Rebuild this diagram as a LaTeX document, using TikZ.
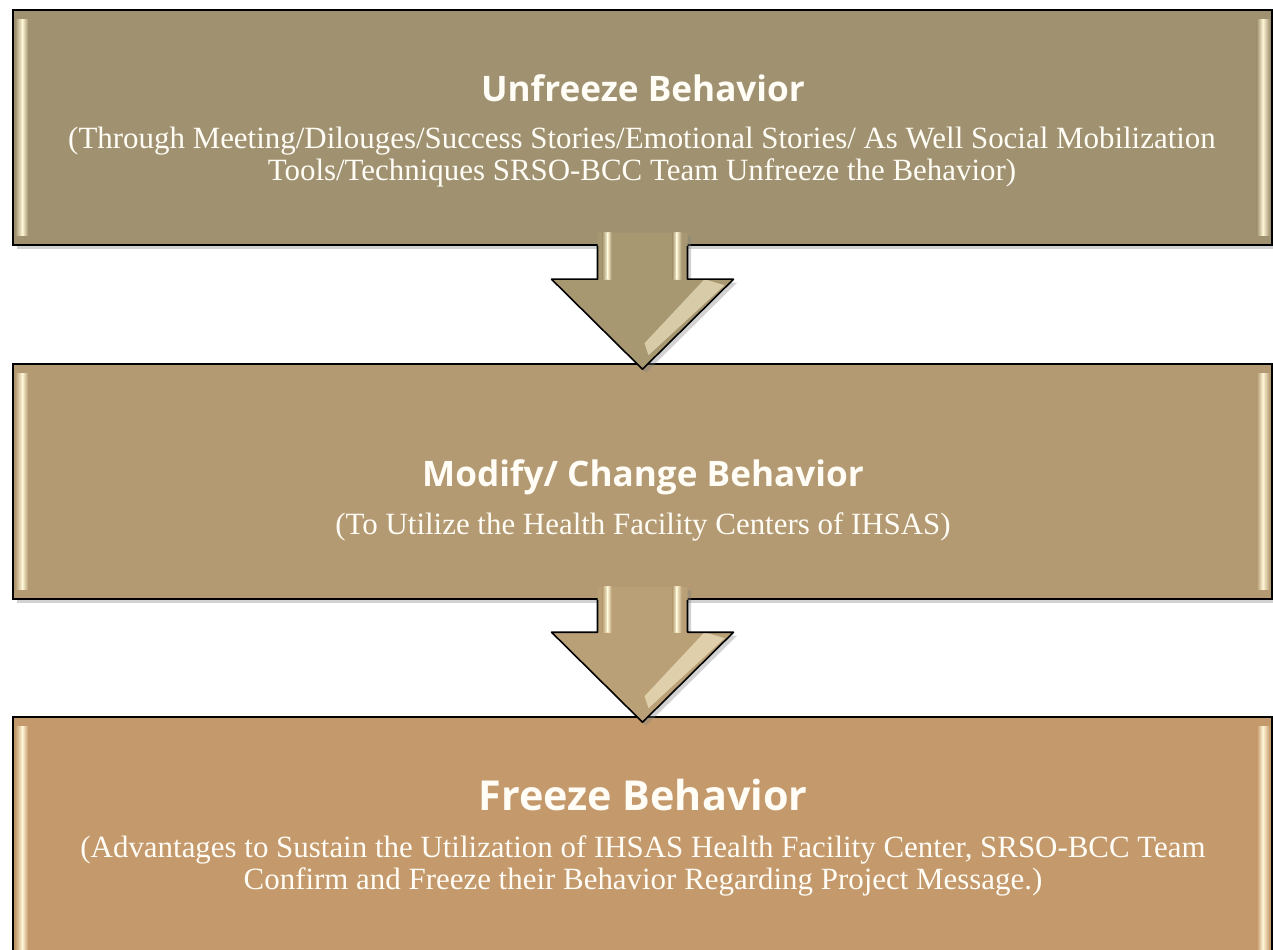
\documentclass[tikz,border=0pt]{standalone}
\usepackage{fontspec}
\setmainfont{Liberation Serif}
\newfontfamily\headfont{Open Sans}
\usetikzlibrary{calc, shadows}

\definecolor{BoxOne}{RGB}{160,146,113}
\definecolor{BoxTwo}{RGB}{179,154,114}
\definecolor{BoxThree}{RGB}{196,153,108}
\definecolor{ArrOne}{RGB}{168,152,114}
\definecolor{ArrTwo}{RGB}{185,160,118}
\definecolor{Bevel}{RGB}{255,246,214}
\definecolor{Ink}{RGB}{255,253,246}

\tikzset{
	stagebox/.style={draw=black, line width=0.9pt, minimum width=1259*0.02cm, minimum height=235*0.02cm, inner sep=0pt, drop shadow={opacity=0.35, shadow xshift=2pt, shadow yshift=-2pt}},
	stagetitle/.style={text=Ink, font=\headfont\bfseries\fontsize{20}{23}\selectfont},
	stagetext/.style={text=Ink, align=center, font=\fontsize{17.6}{18.1}\selectfont}
}

% light edges on both sides of a box
\newcommand\bevel[2]{
	\shade[left color=#2, right color=Bevel] ($(#1.north west)+(3,10)$) rectangle ($(#1.south west)+(10,-10)$);
	\shade[left color=Bevel, right color=#2] ($(#1.north west)+(10,10)$) rectangle ($(#1.south west)+(16,-10)$);
	\shade[left color=#2, right color=Bevel] ($(#1.north east)+(-16,10)$) rectangle ($(#1.south east)+(-10,-10)$);
	\shade[left color=Bevel, right color=#2] ($(#1.north east)+(-10,10)$) rectangle ($(#1.south east)+(-3,-10)$);
}

% block arrow from one box down into the next
\newcommand\flowarrow[3]{
	\fill[#3, drop shadow={opacity=0.35, shadow xshift=2pt, shadow yshift=-2pt}] ($(#1.south)+(-45,-13)$) -- ($(#2.north)+(-45,-84)$) -- ($(#2.north)+(-91,-84)$) -- ($(#2.north)+(0,6)$) -- ($(#2.north)+(91,-84)$) -- ($(#2.north)+(45,-84)$) -- ($(#1.south)+(45,-13)$) -- cycle;
	\shade[left color=#3, right color=Bevel] ($(#1.south)+(-40,-13)$) rectangle ($(#2.north)+(-35,-84)$);
	\shade[left color=Bevel, right color=#3] ($(#1.south)+(-35,-13)$) rectangle ($(#2.north)+(-31,-84)$);
	\shade[left color=#3, right color=Bevel] ($(#1.south)+(30,-13)$) rectangle ($(#2.north)+(34,-84)$);
	\shade[left color=Bevel, right color=#3] ($(#1.south)+(34,-13)$) rectangle ($(#2.north)+(39,-84)$);
	\fill[Bevel, opacity=0.55] ($(#2.north)+(62,-84)$) -- ($(#2.north)+(82,-78)$) -- ($(#2.north)+(6,-8)$) -- ($(#2.north)+(2,-20)$) -- cycle;
	\draw[line width=0.9pt, line join=round] ($(#1.south)+(-45,0)$) -- ($(#2.north)+(-45,-84)$) -- ($(#2.north)+(-91,-84)$) -- ($(#2.north)+(0,6)$) -- ($(#2.north)+(91,-84)$) -- ($(#2.north)+(45,-84)$) -- ($(#1.south)+(45,0)$);
}

\begin{document}
\begin{tikzpicture}[x=0.02cm, y=-0.02cm]
	\clip (0,0) rectangle (1273,949);
	\fill[white] (0,0) rectangle (1273,949);

	\node[stagebox, fill=BoxOne] (unfreeze) at (642.5,127.5) {};
	\bevel{unfreeze}{BoxOne}
	\node[stagebox, fill=BoxTwo] (modify) at (642.5,481.5) {};
	\bevel{modify}{BoxTwo}
	\node[stagebox, fill=BoxThree, minimum height=250*0.02cm] (freeze) at (642.5,842) {};
	\bevel{freeze}{BoxThree}

	\flowarrow{unfreeze}{modify}{ArrOne}
	\flowarrow{modify}{freeze}{ArrTwo}

	\node[stagetitle] (unfreezeT) at (643,88) {Unfreeze Behavior};
	\node[stagetext] (unfreezeB) at (642,157) {(Through Meeting/Dilouges/Success Stories/Emotional Stories/ As Well Social Mobilization\\ Tools/Techniques SRSO-BCC Team Unfreeze the Behavior)};

	\node[stagetitle] (modifyT) at (643,477) {Modify/ Change Behavior};
	\node[stagetext] (modifyB) at (643,527) {(To Utilize the Health Facility Centers of IHSAS)};

	\node[stagetitle, font=\headfont\bfseries\fontsize{23.5}{26}\selectfont] (freezeT) at (643,795) {Freeze Behavior};
	\node[stagetext] (freezeB) at (643,866) {(Advantages to Sustain the Utilization of IHSAS Health Facility Center, SRSO-BCC Team\\ Confirm and Freeze their Behavior Regarding Project Message.)};
\end{tikzpicture}
\end{document}
